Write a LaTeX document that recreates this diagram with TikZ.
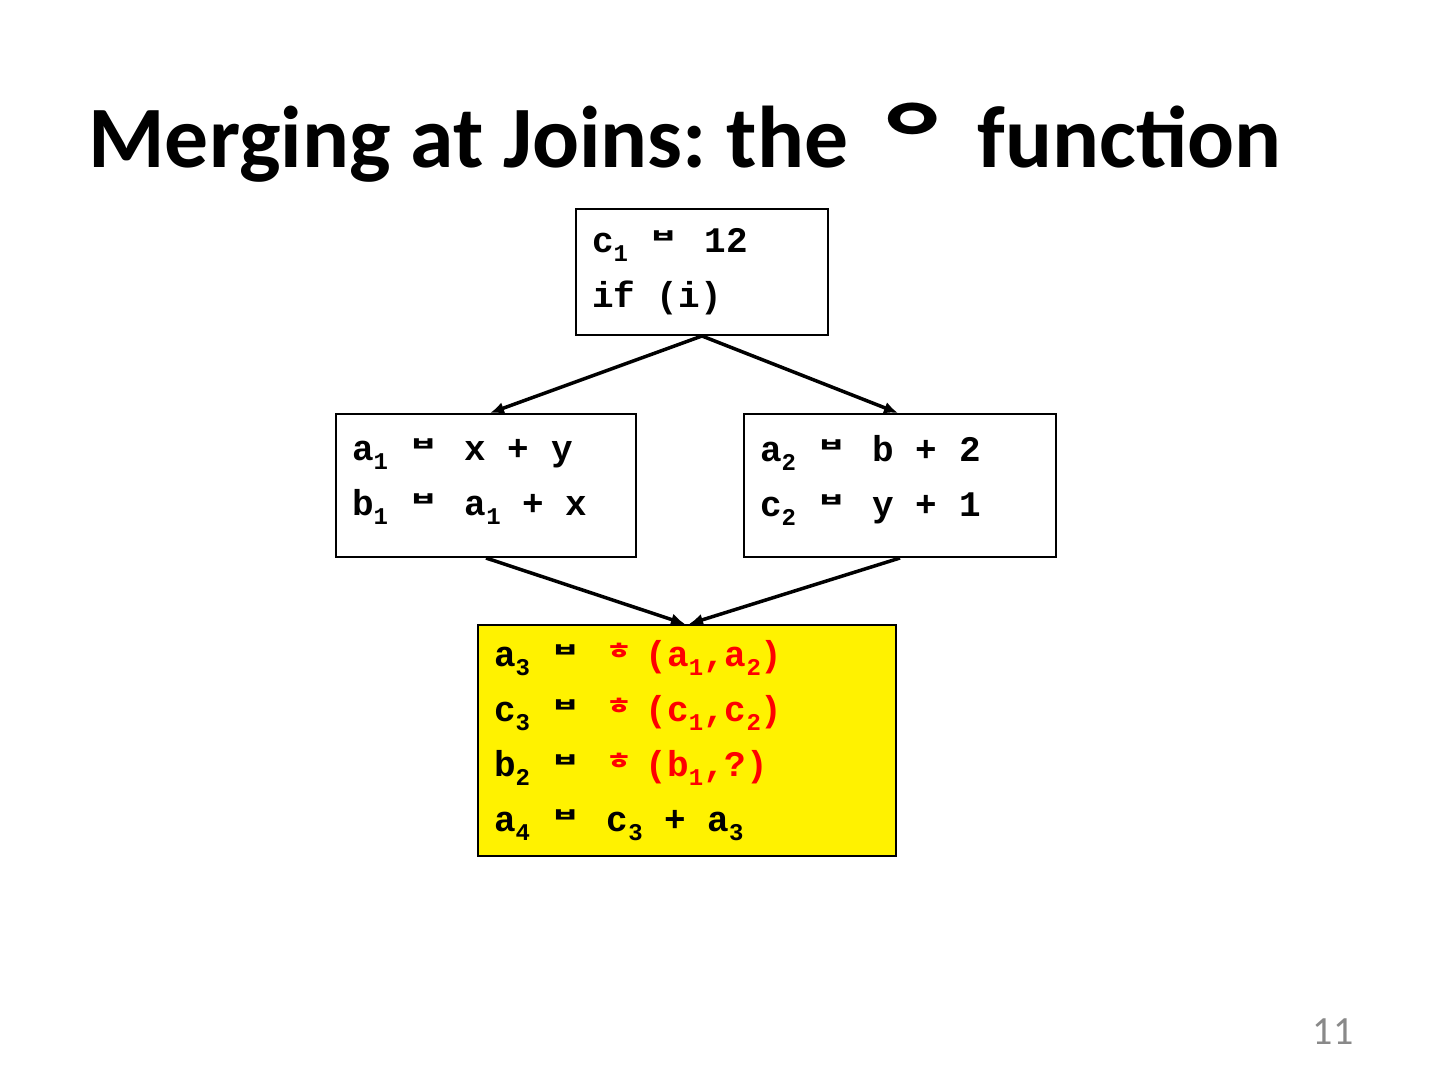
\documentclass[tikz,border=0pt]{standalone}
\usepackage{fontspec}
\usepackage{xcolor}
\usetikzlibrary{arrows.meta,positioning}

\setmainfont{Carlito}
\newfontfamily\codefont{Liberation Mono}
\newfontfamily\kofont{Noto Sans CJK KR}
\definecolor{phired}{RGB}{255,0,0}
\definecolor{slidegray}{RGB}{137,137,137}

\newcommand{\codestyle}{\codefont\bfseries\fontsize{18}{27.5}\selectfont}
\newcommand{\idx}[1]{\raisebox{-4.5pt}{\fontsize{12}{12}\selectfont #1}}
\newcommand{\asgn}{\makebox[16.75pt][l]{\raisebox{4.5pt}{\scalebox{1.1}[0.7]{\fontsize{14}{14}\kofont ㅂ}}}}
\newcommand{\phifn}{\makebox[19.5pt][l]{\raisebox{3.3pt}{\color{phired}\scalebox{1}[0.8]{\fontsize{14}{14}\kofont ㅎ}}}}
\newcommand{\titleglyph}{\makebox[45pt][c]{\raisebox{13pt}{\scalebox{1.3}[0.95]{\fontsize{31}{31}\kofont ㅇ}}}}

\begin{document}
\begin{tikzpicture}[
x=0.5pt, y=-0.5pt,
codebox/.style={
rectangle,
draw,
line width=1pt,
align=left,
inner xsep=8pt,
font=\codestyle,
execute at begin node={\spaceskip 10.8pt\relax}
},
edge/.style={
-{Latex[length=7pt,width=6pt]},
line width=1.75pt
}
]
\useasboundingbox (0,0) rectangle (1440,1080);

% title and slide number
\node[anchor=base west, inner sep=0pt, font=\bfseries\fontsize{43.8}{53}\selectfont\frenchspacing] (title) at (88,168)
  {Merging at Joins: the \titleglyph{} function};
\node[font=\fontsize{20}{24}\selectfont, text=slidegray] (pagenum) at (1333,1032) {11};

% basic blocks
\node[codebox, minimum width=126pt, minimum height=63pt, text width=110pt] (entry) at (702,272)
  {c\idx{1} \asgn{} 12\\if (i)};
\node[codebox, minimum width=150pt, minimum height=71.5pt, text width=134pt] (thenblk) at (486,485.5)
  {a\idx{1} \asgn{} x + y\\b\idx{1} \asgn{} a\idx{1} + x\\[-19.5pt]\mbox{}};
\node[codebox, right=53pt of thenblk, minimum width=156pt, minimum height=71.5pt, text width=140pt] (elseblk)
  {a\idx{2} \asgn{} b + 2\\c\idx{2} \asgn{} y + 1\\[-17.5pt]\mbox{}};
\node[codebox, fill=yellow, minimum width=209pt, minimum height=115.5pt, text width=193pt] (joinblk) at (687,740.5)
  {a\idx{3} \asgn{} \phifn\textcolor{phired}{(a\idx{1},a\idx{2})}\\
   c\idx{3} \asgn{} \phifn\textcolor{phired}{(c\idx{1},c\idx{2})}\\
   b\idx{2} \asgn{} \phifn\textcolor{phired}{(b\idx{1},?)}\\
   a\idx{4} \asgn{} c\idx{3} + a\idx{3}};

% control flow
\draw[edge] (entry.south) -- ([xshift=2pt]thenblk.north);
\draw[edge] (entry.south) -- ([xshift=-1pt]elseblk.north);
\draw[edge] (thenblk.south) -- ([xshift=-1pt]joinblk.north);
\draw[edge] (elseblk.south) -- ([xshift=1pt]joinblk.north);

\end{tikzpicture}
\end{document}
